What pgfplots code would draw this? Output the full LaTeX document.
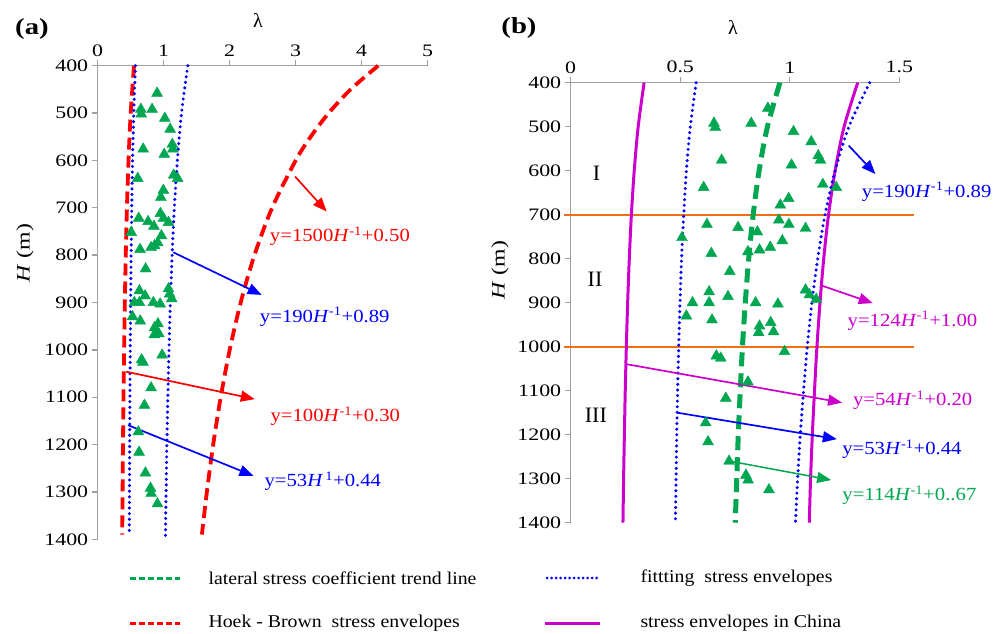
\documentclass[border=0pt]{standalone}
\usepackage{fontspec}
\setmainfont{Liberation Serif}
\newfontfamily\tickf{Liberation Serif}[FakeStretch=1.25]
\newfontfamily\annf{Liberation Serif}[FakeStretch=1.12]
\newfontfamily\legf{Liberation Serif}[FakeStretch=1.1]
\usepackage{pgfplots}
\usepackage{pgfplotstable}
\pgfplotsset{compat=1.18}
\usetikzlibrary{arrows.meta}
\definecolor{cRed}{RGB}{255,0,0}
\definecolor{cBlue}{RGB}{0,0,255}
\definecolor{cMag}{RGB}{204,0,204}
\definecolor{cGreen}{RGB}{0,166,80}
\definecolor{cOrange}{RGB}{240,110,20}
\definecolor{cAxis}{RGB}{160,160,160}

\pgfplotstableread{
lam H
0.900 458
0.654 492
0.660 502
0.824 492
1.017 511
1.098 534
1.130 566
1.140 576
0.689 576
1.008 587
0.607 638
1.151 631
1.212 638
0.995 663
0.957 678
0.622 722
0.764 729
0.950 712
0.996 722
1.072 731
0.852 739
0.508 752
0.966 759
0.862 780
0.911 774
0.809 784
0.642 788
0.726 829
0.632 875
1.072 871
1.090 882
1.121 892
0.556 900
0.632 900
0.718 886
0.844 900
0.946 903
0.528 930
0.645 939
0.862 953
0.913 945
0.858 968
0.926 966
0.976 1011
0.665 1021
0.685 1026
0.809 1080
0.708 1117
0.616 1173
0.627 1216
0.723 1260
0.800 1292
0.810 1303
0.905 1325
}\pts

\tikzset{
  arr/.style={line width=1.7pt, -{Triangle[length=14pt,width=11pt]}},
  ann/.style={font=\annf\fontsize{18.5}{20}\selectfont},
}
\pgfplotsset{
  common/.style={
    scale only axis, anchor=south west, clip=false,
    y dir=reverse, ymin=400, ymax=1400, enlargelimits=false,
    axis x line=top, axis y line=left,
    axis line style={cAxis, line width=1.3pt, -},
    tick style={cAxis, line width=1.3pt}, tick align=outside,
    major tick length=6pt,
    ytick={400,500,...,1400},
    /pgf/number format/assume math mode=true,
    /pgf/number format/1000 sep={},
    ticklabel style={font=\tickf\fontsize{17.5}{17.5}\selectfont, text=black},
  },
  reddash/.style={cRed, line width=3.8pt, dash pattern=on 12pt off 6pt, smooth},
  bluedot/.style={cBlue, line width=3.4pt, dash pattern=on 0pt off 5.6pt, line cap=round, smooth},
  greendash/.style={cGreen, line width=5pt, dash pattern=on 14pt off 7pt, smooth},
  magline/.style={cMag, line width=3pt, smooth},
  tri/.style={only marks, mark=triangle*, mark size=6.3pt, cGreen, mark options={draw=cGreen, fill=cGreen}},
}

\begin{document}
\begin{tikzpicture}
\useasboundingbox (0pt,0pt) rectangle (1002pt,633pt);

% ---------------- panel (a)
\begin{axis}[common, at={(97.7pt,93.7pt)}, width=330pt, height=473.6pt,
  xmin=0, xmax=5, xtick={0,1,2,3,4,5}]
\addplot[reddash] coordinates {(4.25,400) (3.833,450) (3.5,500) (3.227,550) (3.0,600) (2.643,700) (2.375,800) (2.167,900) (2.0,1000) (1.864,1100) (1.75,1200) (1.654,1300) (1.579,1390)};
\addplot[reddash] coordinates {(0.55,400) (0.5,500) (0.467,600) (0.443,700) (0.425,800) (0.411,900) (0.4,1000) (0.391,1100) (0.383,1200) (0.377,1300) (0.372,1390)};
\addplot[bluedot] coordinates {(1.365,400) (1.27,500) (1.207,600) (1.161,700) (1.1275,800) (1.101,900) (1.08,1000) (1.063,1100) (1.048,1200) (1.036,1300) (1.026,1400)};
\addplot[bluedot] coordinates {(0.5725,400) (0.546,500) (0.528,600) (0.516,700) (0.506,800) (0.499,900) (0.493,1000) (0.488,1100) (0.484,1200) (0.481,1300) (0.478,1390)};
\addplot[tri] table[x=lam,y=H] {\pts};
\draw[arr, cRed] (axis cs:2.99,634) -- (axis cs:3.47,708);
\node[ann, text=cRed] at (axis cs:3.67,760) {y=1500\textit{H}\textsuperscript{-1}+0.50};
\draw[arr, cBlue] (axis cs:1.145,794) -- (axis cs:2.485,884);
\node[ann, text=cBlue] at (axis cs:3.44,930) {y=190\textit{H}\textsuperscript{-1}+0.89};
\draw[arr, cRed] (axis cs:0.43,1046) -- (axis cs:2.38,1104);
\node[ann, text=cRed] at (axis cs:3.6,1140) {y=100\textit{H}\textsuperscript{-1}+0.30};
\draw[arr, cBlue] (axis cs:0.46,1159) -- (axis cs:2.36,1266);
\node[ann, text=cBlue] at (axis cs:3.41,1278) {y=53\textit{H}\textsuperscript{\,1}+0.44};
\end{axis}

% ---------------- panel (b)
\begin{axis}[common, at={(570.7pt,110.3pt)}, width=328.6pt, height=440pt,
  xmin=0, xmax=1.5, xtick={0,0.5,1,1.5}, xticklabels={0,0.5,1,1.5}]
\addplot[cOrange, line width=1.9pt] coordinates {(-0.03,700) (1.565,700)};
\addplot[cOrange, line width=1.9pt] coordinates {(-0.03,1000) (1.565,1000)};
\addplot[magline] coordinates {(1.31,400) (1.248,500) (1.207,600) (1.177,700) (1.155,800) (1.138,900) (1.124,1000) (1.113,1100) (1.103,1200) (1.095,1300) (1.089,1400)};
\addplot[magline] coordinates {(0.335,400) (0.308,500) (0.29,600) (0.277,700) (0.2675,800) (0.26,900) (0.254,1000) (0.249,1100) (0.245,1200) (0.2415,1300) (0.2386,1400)};
\addplot[bluedot] coordinates {(1.365,400) (1.27,500) (1.207,600) (1.161,700) (1.1275,800) (1.101,900) (1.08,1000) (1.063,1100) (1.048,1200) (1.036,1300) (1.026,1400)};
\addplot[bluedot] coordinates {(0.5725,400) (0.546,500) (0.528,600) (0.516,700) (0.506,800) (0.499,900) (0.493,1000) (0.488,1100) (0.484,1200) (0.481,1300) (0.478,1400)};
\addplot[greendash] coordinates {(0.955,400) (0.898,500) (0.86,600) (0.833,700) (0.8125,800) (0.797,900) (0.784,1000) (0.774,1100) (0.765,1200) (0.758,1300) (0.751,1400)};
\addplot[tri] table[x=lam,y=H] {\pts};
\node[font=\fontsize{22}{22}\selectfont] at (axis cs:0.118,605) {I};
\node[font=\fontsize{22}{22}\selectfont] at (axis cs:0.111,847) {II};
\node[font=\fontsize{22}{22}\selectfont] at (axis cs:0.115,1155) {III};
\draw[arr, cBlue] (axis cs:1.269,543) -- (axis cs:1.391,607.5);
\node[ann, text=cBlue] at (axis cs:1.625,648) {y=190\textit{H}\textsuperscript{-1}+0.89};
\draw[arr, cMag] (axis cs:1.151,862) -- (axis cs:1.379,901);
\node[ann, text=cMag] at (axis cs:1.56,941) {y=124\textit{H}\textsuperscript{-1}+1.00};
\draw[arr, cMag] (axis cs:0.258,1040) -- (axis cs:1.239,1127);
\node[ann, text=cMag] at (axis cs:1.561,1121) {y=54\textit{H}\textsuperscript{-1}+0.20};
\draw[arr, cBlue] (axis cs:0.487,1150) -- (axis cs:1.215,1210);
\node[ann, text=cBlue] at (axis cs:1.512,1233) {y=53\textit{H}\textsuperscript{-1}+0.44};
\draw[arr, cGreen, line width=1.5pt] (axis cs:0.736,1261) -- (axis cs:1.189,1303);
\node[ann, text=cGreen] at (axis cs:1.546,1337) {y=114\textit{H}\textsuperscript{-1}+0..67};
\end{axis}

% ---------------- labels
\node[font=\tickf\bfseries\fontsize{23}{23}\selectfont] at (32pt,604pt) {(a)};
\node[font=\tickf\bfseries\fontsize{23}{23}\selectfont] at (519pt,605pt) {(b)};
\node[font=\fontsize{20}{20}\selectfont] at (258pt,613pt) {λ};
\node[font=\fontsize{20}{20}\selectfont] at (733pt,606pt) {λ};
\node[font=\tickf\fontsize{19}{19}\selectfont, rotate=90] at (25pt,380pt) {\textit{H} (m)};
\node[font=\tickf\fontsize{19}{19}\selectfont, rotate=90] at (500pt,363pt) {\textit{H} (m)};

% ---------------- legend
\draw[cGreen, line width=3pt, dash pattern=on 6pt off 3pt] (130pt,55pt) -- (180pt,55pt);
\node[anchor=west, font=\legf\fontsize{18}{18}\selectfont] at (205pt,55pt) {lateral stress coefficient trend line};
\draw[cBlue, line width=3pt, dash pattern=on 0pt off 4.5pt, line cap=round] (547pt,55pt) -- (600pt,55pt);
\node[anchor=west, font=\legf\fontsize{18}{18}\selectfont] at (637pt,55pt) {fittting\ \ stress envelopes};
\draw[cRed, line width=3pt, dash pattern=on 6pt off 3pt] (130pt,10pt) -- (180pt,10pt);
\node[anchor=west, font=\legf\fontsize{18}{18}\selectfont] at (205pt,10pt) {Hoek - Brown\ \ stress envelopes};
\draw[cMag, line width=3pt] (545pt,10pt) -- (600pt,10pt);
\node[anchor=west, font=\legf\fontsize{18}{18}\selectfont] at (637pt,10pt) {stress envelopes in China};
\end{tikzpicture}
\end{document}
